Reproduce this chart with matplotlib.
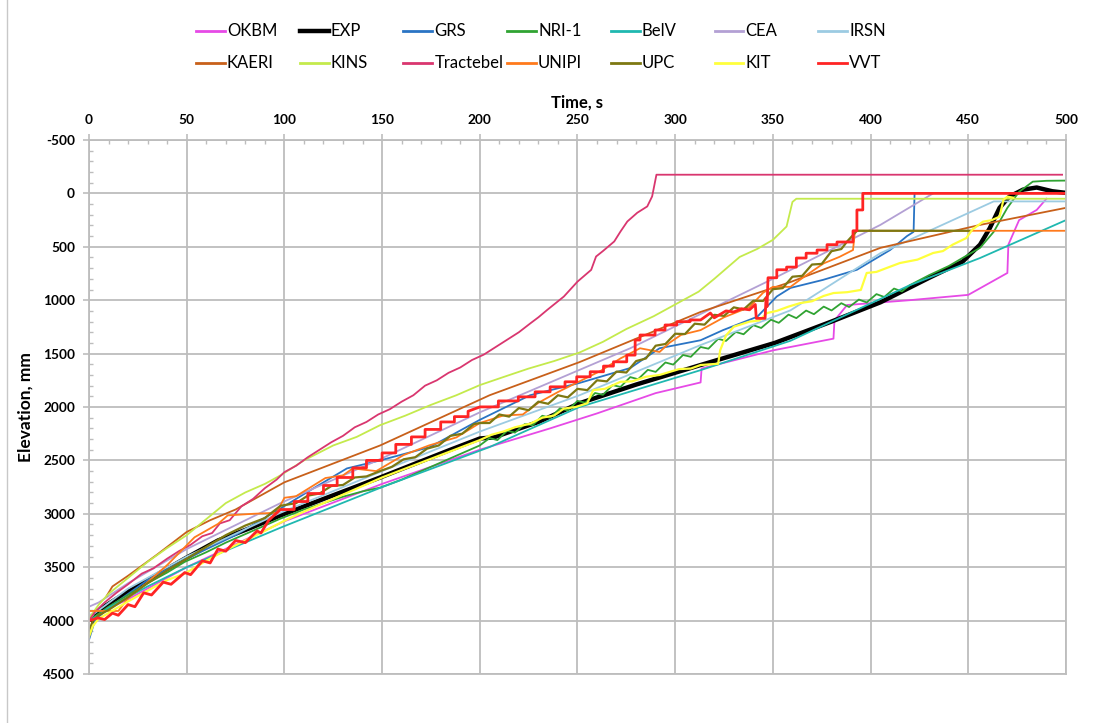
import matplotlib
matplotlib.use('Agg')
import matplotlib.pyplot as plt
from matplotlib.lines import Line2D
from matplotlib.ticker import MultipleLocator

plt.rcParams['font.family'] = ['Lato', 'DejaVu Sans']
plt.rcParams['axes.unicode_minus'] = False

W, H = 1096, 723

# Series names, colours and line widths (legend order)
names = ['OKBM', 'EXP', 'GRS', 'NRI-1', 'BelV', 'CEA', 'IRSN',
         'KAERI', 'KINS', 'Tractebel', 'UNIPI', 'UPC', 'KIT', 'VVT']
colors = ['#E64AE6', '#000000', '#2A74C4', '#30A332', '#1FB8B0', '#B3A0D4', '#9CCBE2',
          '#C8601A', '#C4EA4C', '#D9366F', '#FF7A1C', '#7D7812', '#FFFF3C', '#FF2424']
widths = [1.3, 3.2, 1.3, 1.3, 1.3, 1.3, 1.3,
          1.3, 1.3, 1.3, 1.3, 1.6, 1.6, 2.0]

# Time (s) and elevation (mm) of each series
okbm_t = [0, 5, 20, 50, 100, 150, 200, 236, 260, 290, 313, 313.5, 350, 381, 381.5, 388, 420, 450, 470, 470.5, 476, 485, 490]
okbm_e = [4000, 3930, 3800, 3500, 3070, 2720, 2400, 2200, 2060, 1870, 1770, 1640, 1470, 1360, 1190, 1045, 1000, 950, 745, 480, 250, 155, 50]

exp_t = [2, 6, 15, 32, 49, 66, 83, 100, 149, 185, 200, 207, 230, 251, 280, 313, 351, 380, 405, 430, 447, 456, 461, 466, 471, 478, 485, 493, 500]
exp_e = [4000, 3890, 3785, 3600, 3420, 3250, 3130, 3000, 2660, 2400, 2295, 2285, 2140, 1965, 1790, 1607, 1400, 1200, 1020, 790, 640, 480, 325, 135, 30, -35, -55, -20, -5]

grs_t = [0, 1, 3, 10, 30, 50, 75, 98, 115, 132, 149, 174.5, 200, 225.7, 251, 277, 292, 313, 324.5, 342, 352, 359, 375.6, 393, 410, 418.6, 422, 422.5]
grs_e = [4180, 4120, 4000, 3880, 3620, 3420, 3200, 2950, 2760, 2575, 2500, 2375, 2120, 1890, 1775, 1635, 1450, 1375, 1280, 1155, 965, 885, 810, 715, 530, 400, 360, 0]

nri_t = [0, 3, 10, 20, 30, 40, 49, 60, 70, 80, 90, 98, 110, 120, 130, 140, 149, 160, 170, 180, 190, 200,
         205, 209, 214, 218, 223, 227, 232, 236, 241, 245, 250, 254, 259, 263, 268, 272, 277, 281, 286, 290,
         295, 299, 304, 308, 313, 317, 322, 326, 331, 335, 340, 344, 349, 353, 358, 362, 367, 371, 376, 380,
         385, 389, 394, 398, 403, 407, 412, 416, 420, 430, 440, 447, 456, 463, 470, 476, 483, 490, 500]
nri_e = [4000, 3960, 3870, 3760, 3650, 3550, 3450, 3360, 3270, 3190, 3110, 3045, 2960, 2900, 2840, 2790, 2755, 2680, 2600, 2520, 2440, 2360,
         2291, 2310, 2222, 2240, 2160, 2171, 2082, 2101, 2013, 2032, 1943, 1960, 1869, 1886, 1795, 1812, 1720, 1740, 1652, 1671,
         1583, 1603, 1513, 1530, 1438, 1454, 1362, 1381, 1297, 1319, 1234, 1260, 1183, 1212, 1135, 1168, 1097, 1131, 1060, 1096,
         1028, 1064, 994, 1021, 943, 970, 891, 918, 860, 765, 680, 605, 510, 360, 135, -15, -110, -118, -120]

belv_t = [0, 5, 10, 30, 50, 98, 150, 205, 251, 313, 359, 420, 456, 500]
belv_e = [4000, 3950, 3880, 3680, 3500, 3130, 2750, 2375, 2000, 1655, 1380, 860, 605, 250]

cea_t = [0, 5, 20, 50, 98, 150, 200, 277, 350, 405, 432]
cea_e = [3870, 3830, 3650, 3330, 2900, 2480, 2050, 1450, 800, 295, 0]

irsn_t = [0, 3, 20, 50, 98, 150, 200, 251, 313, 359, 405, 463, 500]
irsn_e = [3950, 3930, 3700, 3400, 2990, 2600, 2230, 1890, 1420, 1095, 560, 75, 75]

kaeri_t = [9, 12, 20, 35, 50, 62, 75, 100, 149, 205, 251, 313, 359, 405, 456, 500]
kaeri_e = [3770, 3680, 3580, 3380, 3170, 3060, 2960, 2705, 2360, 1890, 1580, 1110, 830, 510, 295, 135]

kins_t = [0, 5, 10, 20, 30, 40, 50, 60, 70, 80, 90, 98, 110, 125, 137, 149, 162, 175, 188, 200, 212, 225, 238,
          251, 263, 275, 289, 302, 312, 320, 333, 342, 350, 357, 360, 362, 500]
kins_e = [3980, 3850, 3750, 3600, 3450, 3320, 3200, 3050, 2900, 2800, 2720, 2640, 2500, 2360, 2280, 2170, 2080, 1980, 1890, 1795, 1720, 1640, 1570,
          1490, 1390, 1270, 1150, 1020, 920, 800, 595, 520, 435, 310, 80, 50, 50]

tract_t = [0, 3, 8, 14, 20, 27, 33, 40, 46, 52, 58, 63, 67, 72, 78, 84, 90, 96, 100, 106, 112, 118, 124, 130, 136,
           142, 148, 154, 160, 166, 172, 178, 184, 190, 196, 202, 208, 214, 220, 226, 230, 234.5, 243, 250, 257,
           259.5, 263, 268.8, 272, 275.5, 280.6, 285.7, 288.2, 290.4, 498]
tract_e = [4000, 3920, 3830, 3740, 3660, 3560, 3510, 3420, 3350, 3290, 3210, 3180, 3090, 3060, 2930, 2860, 2760, 2680, 2610, 2550, 2470, 2400, 2330, 2270, 2190,
           2140, 2070, 2020, 1950, 1890, 1800, 1750, 1680, 1630, 1560, 1510, 1440, 1370, 1300, 1215, 1160, 1091, 966, 826, 716,
           591, 540, 450, 357, 263, 181, 122, 28, -175, -175]

unipi_t = [0, 15, 20, 30, 40, 54, 66, 71, 84, 96, 100, 106, 121, 130, 135, 142, 147, 161, 174, 188, 200, 212, 222, 230,
           240, 251, 262, 272, 282, 292, 297, 303, 313, 325, 338, 345, 350, 359, 366, 376, 384, 391, 392, 500]
unipi_e = [3910, 3910, 3790, 3640, 3480, 3220, 3095, 3015, 3000, 2990, 2850, 2835, 2665, 2640, 2575, 2590, 2600, 2450, 2360, 2285, 2150, 2080, 2070, 1960,
           1860, 1760, 1660, 1545, 1450, 1485, 1400, 1325, 1280, 1160, 1065, 930, 875, 875, 780, 655, 595, 530, 350, 350]

upc_t = [0, 2, 5, 10, 20, 30, 40, 50, 60, 70, 80, 90, 98, 106, 112, 118, 124, 130, 136, 142, 149, 155, 161, 167, 173,
         179, 185, 191, 197, 200, 205, 210, 215, 220, 225, 230, 235, 240, 245, 250, 255, 260, 265, 270, 275, 280,
         285, 290, 295, 300, 305, 310, 315, 320, 325, 330, 335, 340, 345, 350, 355, 360, 365, 370, 375, 380, 385,
         388, 393, 451]
upc_e = [4100, 4000, 3950, 3900, 3780, 3650, 3530, 3420, 3310, 3200, 3110, 3040, 2925, 2900, 2830, 2810, 2740, 2730, 2660, 2650, 2600, 2560, 2490, 2470, 2390,
         2360, 2270, 2250, 2160, 2150, 2150, 2070, 2090, 2010, 2030, 1950, 1970, 1890, 1910, 1830, 1842, 1750, 1760, 1668, 1677, 1570,
         1546, 1426, 1410, 1314, 1317, 1220, 1229, 1137, 1147, 1067, 1086, 1005, 1007, 897, 887, 780, 772, 666, 660, 541, 521,
         450, 350, 350]

kit_t = [0, 2, 5, 10, 20, 30, 40, 49, 60, 70, 80, 90, 100, 110, 120, 130, 140, 150, 160, 170, 180, 190, 200,
         206, 212, 218, 226, 232, 238, 243, 249, 255, 258, 264, 272, 278, 285, 292, 302, 308, 313, 318, 322, 323, 326,
         330, 338, 343, 347, 352, 358, 364, 370, 376, 381, 388, 395, 398, 403, 408, 415, 424, 432, 437, 442,
         449, 452, 457.5, 462, 466, 468, 470, 473]
kit_e = [4150, 4050, 3980, 3930, 3820, 3720, 3620, 3560, 3440, 3340, 3250, 3160, 3065, 2980, 2900, 2820, 2740, 2660, 2590, 2520, 2450, 2380, 2310,
         2260, 2230, 2190, 2155, 2100, 2080, 2015, 2000, 1965, 1842, 1830, 1764, 1760, 1717, 1700, 1645, 1640, 1607, 1600, 1595, 1470, 1330,
         1248, 1201, 1190, 1120, 1100, 1060, 1027, 1010, 960, 933, 925, 904, 745, 735, 700, 652, 620, 558, 540, 480,
         418, 340, 265, 250, 218, 60, 30, 40]

vvt_t = [0, 4.6, 8, 12, 15, 20, 23.5, 28, 32, 38, 42, 49, 52, 58, 62, 66, 70, 75, 80, 86, 88, 92, 98,
         105, 105, 112, 112, 120, 120, 127, 127, 135, 135, 142, 142, 150, 150, 157, 157, 165, 165, 172, 172,
         180, 180, 187, 187, 194, 194, 200.1, 209.5, 209.5, 219.7, 219.7, 228.3, 228.3, 236, 236, 243.6, 243.6,
         249.6, 249.6, 256.5, 256.5, 263.3, 263.3, 268.4, 268.4, 275.2, 275.2, 279.5, 279.5, 282, 282, 289.7, 289.7,
         294.8, 294.8, 300.8, 300.8, 307.6, 307.6, 313, 318, 320, 326, 330, 334, 338, 341, 341.5, 346, 346.5, 347,
         347.5, 352, 352, 357, 357, 362, 362, 367, 367, 372.6, 372.6, 377.7, 377.7, 382.8, 382.8, 391, 391, 393,
         393, 396, 396, 500]
vvt_e = [4000, 3975, 3990, 3930, 3950, 3850, 3870, 3740, 3760, 3640, 3660, 3550, 3570, 3440, 3460, 3330, 3350, 3250, 3270, 3160, 3180, 3060, 2960,
         2960, 2885, 2885, 2810, 2810, 2735, 2735, 2660, 2660, 2570, 2570, 2500, 2500, 2430, 2430, 2350, 2350, 2280, 2280, 2210,
         2210, 2140, 2140, 2090, 2090, 2040, 1999, 1999, 1943, 1943, 1905, 1905, 1858, 1858, 1811, 1811, 1764,
         1764, 1717, 1717, 1670, 1670, 1617, 1617, 1577, 1577, 1514, 1514, 1373, 1373, 1326, 1326, 1279,
         1279, 1232, 1232, 1201, 1201, 1185, 1185, 1120, 1165, 1100, 1110, 1080, 1090, 1040, 1170, 1170, 980, 1060,
         790, 790, 715, 715, 690, 690, 605, 605, 560, 560, 530, 530, 480, 480, 455, 455, 350, 350,
         155, 155, 0, 0]

series_t = [okbm_t, exp_t, grs_t, nri_t, belv_t, cea_t, irsn_t,
            kaeri_t, kins_t, tract_t, unipi_t, upc_t, kit_t, vvt_t]
series_e = [okbm_e, exp_e, grs_e, nri_e, belv_e, cea_e, irsn_e,
            kaeri_e, kins_e, tract_e, unipi_e, upc_e, kit_e, vvt_e]

fig = plt.figure(figsize=(W / 100, H / 100), dpi=100)
ax = fig.add_axes([89 / W, 1 - 674 / H, (1066 - 89) / W, (674 - 140) / H])

for t, e, c, lw in zip(series_t, series_e, colors, widths):
    ax.plot(t, e, color=c, lw=lw, solid_joinstyle='round')

grid_c = '#BDBDBD'
ax.set_xlim(0, 500)
ax.set_ylim(4500, -500)
ax.xaxis.tick_top()
ax.xaxis.set_label_position('top')
ax.xaxis.set_major_locator(MultipleLocator(50))
ax.xaxis.set_minor_locator(MultipleLocator(10))
ax.yaxis.set_major_locator(MultipleLocator(500))
ax.yaxis.set_minor_locator(MultipleLocator(100))
ax.grid(True, which='major', color=grid_c, lw=1.3)
ax.set_axisbelow(True)
for sp in ax.spines.values():
    sp.set_color(grid_c)
    sp.set_linewidth(1.3)
ax.tick_params(which='major', direction='out', length=4, width=1.2, color=grid_c,
               labelsize=9.8, pad=6)
ax.tick_params(which='minor', direction='in', length=3, width=1.0, color=grid_c)
ax.tick_params(axis='x', which='both', top=True, bottom=False)
ax.tick_params(axis='y', which='both', left=True, right=False)
for lab in ax.get_xticklabels() + ax.get_yticklabels():
    lab.set_fontweight('bold')

ax.set_xlabel('Time, s', fontsize=12, fontweight='bold', labelpad=5)
ax.set_ylabel('Elevation, mm', fontsize=12.5, fontweight='bold', labelpad=7)

# legend: two rows of seven evenly spaced entries
for i, (name, c, lw) in enumerate(zip(names, colors, widths)):
    row, col = divmod(i, 7)
    x0 = (196 + 103.7 * col) / W
    y = 1 - (31 + 32 * row) / H
    fig.add_artist(Line2D([x0, x0 + 29 / W], [y, y], transform=fig.transFigure,
                          color=c, lw=max(lw, 2.0)))
    fig.text(x0 + 31 / W, y, name, ha='left', va='center', fontsize=12)

# chart area border on the left
fig.add_artist(Line2D([7 / W, 7 / W], [0, 1], transform=fig.transFigure,
                      color='#C8C8C8', lw=1.0))

fig.savefig('out.png', dpi=100)
